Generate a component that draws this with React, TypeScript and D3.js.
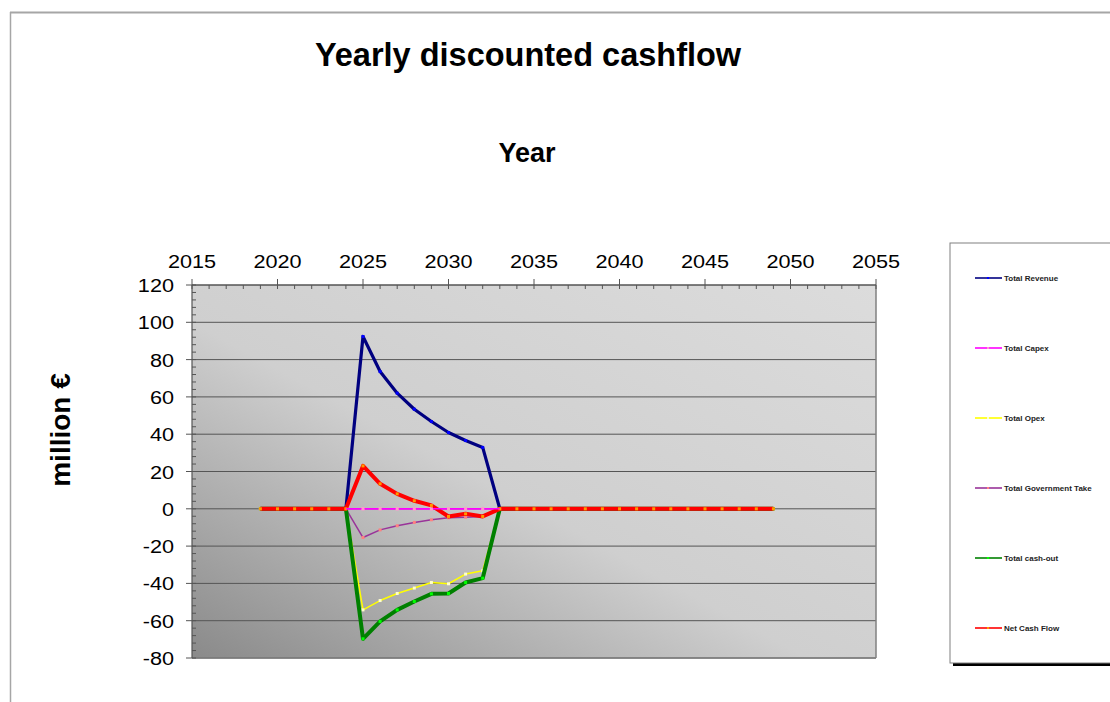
import React from "react";
import * as d3 from "d3";

const years = d3.range(2019, 2050);
const activeYears = [2024, 2025, 2026, 2027, 2028, 2029, 2030, 2031, 2032, 2033];
const revenueActive = [0, 92.4, 73.6, 62.0, 53.4, 46.8, 40.9, 36.6, 32.9, 0];
const capexActive = [0, 0, 0, 0, 0, 0, 0, 0, 0, 0];
const opexActive = [0, -54.2, -49.2, -45.4, -42.5, -39.5, -40.2, -35.0, -33.2, 0];
const govActive = [0, -15.4, -11.3, -9.1, -7.3, -5.9, -4.8, -4.5, -4.1, 0];
const cashOutActive = [0, -69.7, -60.4, -54.2, -49.7, -45.6, -45.4, -39.5, -37.2, 0];
const netActive = [0, 23.0, 13.4, 8.0, 4.3, 1.8, -4.1, -2.7, -4.1, 0];

const xTicks = [2015, 2020, 2025, 2030, 2035, 2040, 2045, 2050, 2055];
const yTicks = [120, 100, 80, 60, 40, 20, 0, -20, -40, -60, -80];

function full(active: number[]) {
  return years.map((y) => {
    const i = activeYears.indexOf(y);
    return { year: y, value: i >= 0 ? active[i] : 0 };
  });
}

const series = [
  { name: "Total Revenue", data: full(revenueActive), color: "#000080", marker: "#0000ff", width: 3.2 },
  { name: "Total Capex", data: full(capexActive), color: "#ff00ff", marker: "#ff99cc", width: 1.5 },
  { name: "Total Opex", data: full(opexActive), color: "#ffff00", marker: "#ffffcc", width: 1.5 },
  { name: "Total Government Take", data: full(govActive), color: "#993399", marker: "#ff8080", width: 1.5 },
  { name: "Total cash-out", data: full(cashOutActive), color: "#008000", marker: "#00ff00", width: 4 },
  { name: "Net Cash Flow", data: full(netActive), color: "#ff0000", marker: "#ff9900", width: 4 },
];

const drawOrder = [0, 1, 3, 2, 4, 5];

export default function App() {
  const left = 192, right = 876, top = 285, bottom = 658;
  const x = d3.scaleLinear().domain([2015, 2055]).range([left, right]);
  const y = d3.scaleLinear().domain([-80, 120]).range([bottom, top]);
  const line = d3
    .line<{ year: number; value: number }>()
    .x((d) => x(d.year))
    .y((d) => y(d.value));
  const minorX = d3.range(2015, 2056).filter((v) => v % 5 !== 0);
  const minorY = d3.range(-80, 121, 4).filter((v) => v % 20 !== 0);
  const font = "Liberation Sans, Arial, sans-serif";
  const legendYs = [278, 348, 418, 488, 558, 628];

  const markers = (s: typeof series[number], filter?: (yr: number) => boolean) =>
    s.data
      .filter((d) => (filter ? filter(d.year) : true))
      .map((d) => (
        <rect key={s.name + d.year} x={x(d.year) - 1.5} y={y(d.value) - 1.5} width={3} height={3} fill={s.marker} />
      ));

  return (
    <svg width={1110} height={702} style={{ position: "absolute", left: 0, top: 0 }} fontFamily={font}>
      <defs>
        <linearGradient id="bg" x1="0" y1="1" x2="1" y2="0">
          <stop offset="0" stopColor="#8a8a8a" />
          <stop offset="0.45" stopColor="#cfcfcf" />
          <stop offset="1" stopColor="#dcdcdc" />
        </linearGradient>
      </defs>
      <rect x={0} y={0} width={1110} height={702} fill="#ffffff" />
      <line x1={10} y1={12.5} x2={1110} y2={12.5} stroke="#a6a6a6" strokeWidth={2} />
      <line x1={10.5} y1={12} x2={10.5} y2={702} stroke="#a6a6a6" strokeWidth={1.5} />

      <text x={528} y={66} textAnchor="middle" fontSize={32.5} fontWeight="bold">Yearly discounted cashflow</text>
      <text x={527} y={162} textAnchor="middle" fontSize={27} fontWeight="bold">Year</text>
      <text transform="translate(70,430) rotate(-90)" textAnchor="middle" fontSize={28} fontWeight="bold">million €</text>

      <rect x={left} y={top} width={right - left} height={bottom - top} fill="url(#bg)" />
      {yTicks.map((t) => (
        <line key={"g" + t} x1={left} x2={right} y1={y(t)} y2={y(t)} stroke="#555" strokeWidth={1} />
      ))}
      <line x1={right} x2={right} y1={top} y2={bottom} stroke="#808080" strokeWidth={1.5} />
      <line x1={left} x2={right} y1={bottom} y2={bottom} stroke="#808080" strokeWidth={1.5} />

      {/* axes */}
      <line x1={left} x2={right} y1={top} y2={top} stroke="#555" strokeWidth={1.2} />
      <line x1={left} x2={left} y1={top} y2={bottom} stroke="#555" strokeWidth={1.2} />
      {xTicks.map((t) => (
        <g key={"xt" + t}>
          <line x1={x(t)} x2={x(t)} y1={top - 6} y2={top + 4} stroke="#555" strokeWidth={1} />
          <text transform={`translate(${x(t)},268) scale(1.14,1)`} textAnchor="middle" fontSize={19}>{t}</text>
        </g>
      ))}
      {minorX.map((t) => (
        <line key={"mx" + t} x1={x(t)} x2={x(t)} y1={top} y2={top + 4} stroke="#555" strokeWidth={1} />
      ))}
      {yTicks.map((t) => (
        <g key={"yt" + t}>
          <line x1={left - 6} x2={left + 4} y1={y(t)} y2={y(t)} stroke="#555" strokeWidth={1} />
          <text transform={`translate(174,${y(t) + 7}) scale(1.14,1)`} textAnchor="end" fontSize={19}>{t}</text>
        </g>
      ))}
      {minorY.map((t) => (
        <line key={"my" + t} x1={left} x2={left + 4} y1={y(t)} y2={y(t)} stroke="#555" strokeWidth={1} />
      ))}

      {/* series */}
      {drawOrder.map((i) => {
        const s = series[i];
        return (
          <g key={s.name}>
            <path d={line(s.data) || ""} fill="none" stroke={s.color} strokeWidth={s.width} strokeLinejoin="round" />
            {markers(s)}
          </g>
        );
      })}
      {/* capex visible where net cash flow departs from zero */}
      <path
        d={line(series[1].data.filter((d) => d.year >= 2024 && d.year <= 2033)) || ""}
        fill="none"
        stroke="#ff00ff"
        strokeWidth={1.5}
      />
      {markers(series[1], (yr) => yr > 2024 && yr < 2033)}

      {/* legend */}
      <rect x={953} y={246} width={200} height={420} fill="#000" />
      <rect x={950} y={243} width={200} height={420} fill="#fff" stroke="#808080" strokeWidth={1} />
      {series.map((s, k) => {
        const ly = legendYs[k];
        return (
          <g key={"lg" + s.name}>
            <line x1={975} x2={1002} y1={ly} y2={ly} stroke={s.color} strokeWidth={1.6} />
            <rect x={987} y={ly - 1} width={2} height={2} fill={s.marker} />
            <text x={1004} y={ly + 3} fontSize={8} fontWeight="bold" fill="#222">{s.name}</text>
          </g>
        );
      })}
    </svg>
  );
}
